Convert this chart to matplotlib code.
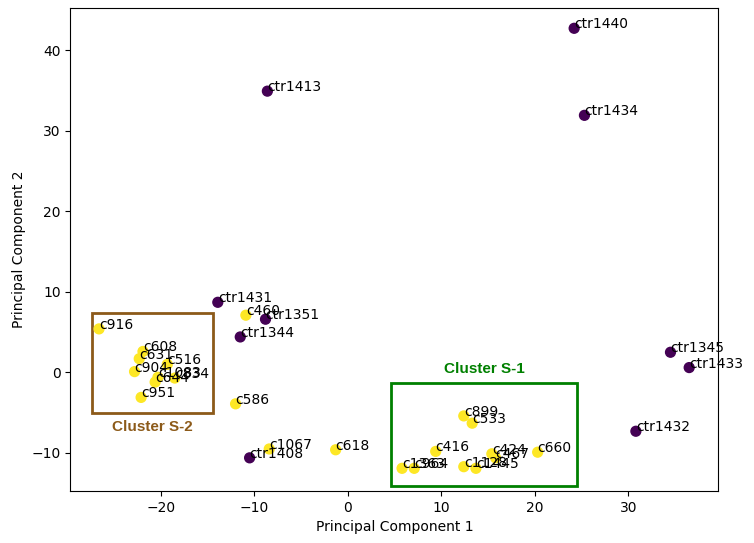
import matplotlib
matplotlib.use("Agg")
import matplotlib.pyplot as plt
from matplotlib.patches import Rectangle

names = ["ctr1440", "ctr1413", "ctr1434", "ctr1431", "ctr1351", "ctr1344",
         "ctr1408", "ctr1345", "ctr1433", "ctr1432",
         "c460", "c916", "c608", "c631", "c904", "c516", "c1083", "c834",
         "c644", "c951", "c586", "c1067", "c618",
         "c899", "c533", "c416", "c660", "c424", "c467", "c1363", "c964",
         "c1128", "c1445"]
pc1 = [24.2, -8.6, 25.3, -13.9, -8.8, -11.5, -10.5, 34.5, 36.5, 30.8,
       -10.9, -26.6, -21.9, -22.3, -22.8, -19.3, -20.3, -18.5,
       -20.6, -22.1, -12.0, -8.4, -1.3,
       12.4, 13.3, 9.4, 20.3, 15.4, 15.8, 5.8, 7.1, 12.4, 13.7]
pc2 = [42.7, 34.9, 31.9, 8.7, 6.6, 4.4, -10.6, 2.5, 0.6, -7.3,
       7.1, 5.4, 2.6, 1.7, 0.1, 1.0, -0.6, -0.7,
       -1.2, -3.1, -3.9, -9.5, -9.6,
       -5.4, -6.3, -9.8, -9.9, -10.1, -10.6, -11.9, -11.9, -11.7, -11.9]
group = [0] * 10 + [1] * 23

# cluster boxes: (x0, y0, width, height)
s2_box = (-27.4, -5.0, 13.0, 12.4)
s1_box = (4.6, -14.1, 19.9, 12.8)
brown = "#8C5A19"

fig = plt.figure(figsize=(7.54, 5.43), dpi=100)
ax = fig.add_axes([0.0935, 0.096, 0.859, 0.889])

ax.scatter(pc1, pc2, c=group, cmap="viridis", s=50, zorder=2)
for n, x, y in zip(names, pc1, pc2):
    ax.annotate(n, (x, y), fontsize=10, zorder=3)

ax.add_patch(Rectangle(s2_box[:2], s2_box[2], s2_box[3], fill=False,
                       edgecolor=brown, linewidth=2, zorder=1))
ax.text(s2_box[0] + s2_box[2] / 2, s2_box[1] - 0.9, "Cluster S-2",
        ha="center", va="top", color=brown, fontweight="bold", fontsize=11,
        family="Liberation Sans")
ax.add_patch(Rectangle(s1_box[:2], s1_box[2], s1_box[3], fill=False,
                       edgecolor="green", linewidth=2, zorder=1))
ax.text(s1_box[0] + s1_box[2] / 2, s1_box[1] + s1_box[3] + 0.9, "Cluster S-1",
        ha="center", va="bottom", color="green", fontweight="bold", fontsize=11,
        family="Liberation Sans")

ax.set_xlim(-29.65, 39.6)
ax.set_ylim(-14.7, 45.2)
ax.set_xlabel("Principal Component 1")
ax.set_ylabel("Principal Component 2")

fig.savefig("out.png", dpi=100)
